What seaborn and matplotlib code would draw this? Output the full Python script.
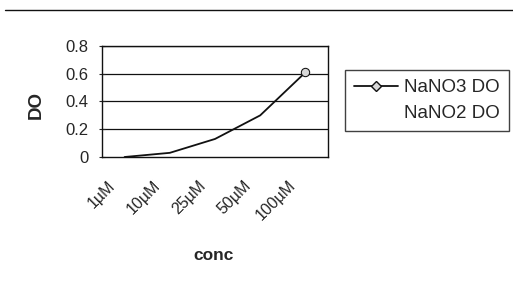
import matplotlib
matplotlib.use("Agg")
import matplotlib.pyplot as plt
from matplotlib.lines import Line2D
from matplotlib.transforms import ScaledTranslation
import seaborn as sns
import pandas as pd

# valeurs
conc = ["1µM", "10µM", "25µM", "50µM", "100µM"]
nano3_do = [0.0, 0.03, 0.13, 0.30, 0.61]
yticks = [0, 0.2, 0.4, 0.6, 0.8]
ytick_labels = ["0", "0.2", "0.4", "0.6", "0.8"]

sns.set_style("white")
plt.rcParams["font.family"] = ["Liberation Sans", "DejaVu Sans"]

df = pd.DataFrame({"conc": conc, "DO": nano3_do})

fig = plt.figure(figsize=(5.13, 2.83), dpi=100)
fig.patch.set_facecolor("white")
ax = fig.add_axes([102 / 513, 1 - 157 / 283, 226 / 513, 111 / 283])

sns.lineplot(data=df, x="conc", y="DO", sort=False, color="#111111", lw=1.3,
             marker="o", markersize=6, markerfacecolor="#d8d8d8",
             markeredgecolor="#111111", markevery=[4], ax=ax)

# grille horizontale
for v in yticks[1:]:
    ax.axhline(v, color="#111111", lw=0.9, zorder=0)

ax.set_xlim(-0.5, 4.5)
ax.set_ylim(0, 0.8)
ax.set_yticks(yticks)
ax.set_yticklabels(ytick_labels, fontsize=12)
ax.set_xticks(range(len(conc)))
ax.set_xticklabels(conc, fontsize=11.5, rotation=45, ha="right", va="top",
                   rotation_mode="anchor")
ax.tick_params(axis="x", length=0, pad=0)
ax.tick_params(axis="y", length=5, direction="inout", left=True, pad=7)

# décalage des étiquettes inclinées
offset = ScaledTranslation(-0.17, -0.21, fig.dpi_scale_trans)
for lab in ax.get_xticklabels():
    lab.set_transform(lab.get_transform() + offset)

for s in ax.spines.values():
    s.set_color("#111111")
    s.set_linewidth(1.0)

ax.set_xlabel("conc", fontsize=12.5, fontweight="bold")
ax.set_ylabel("DO", fontsize=13.5, fontweight="bold")
ax.xaxis.set_label_coords((214 - 102) / 226, -(256 - 157) / 111)
ax.xaxis.label.set_va("center")
ax.yaxis.set_label_coords((36 - 102) / 226, (157 - 105) / 111)
ax.yaxis.label.set_va("center")

# légende
handles = [
    Line2D([], [], color="#111111", lw=1.3, marker="D", markersize=5,
           markerfacecolor="#d8d8d8", markeredgecolor="#111111"),
    Line2D([], [], color="none"),
]
leg = fig.legend(handles, ["NaNO3 DO", "NaNO2 DO"], loc="upper left",
                 bbox_to_anchor=(345 / 513, 1 - 70 / 283), fontsize=13.5,
                 frameon=True, fancybox=False, handlelength=2.3,
                 borderpad=0.5, labelspacing=0.45, handletextpad=0.35,
                 borderaxespad=0)
leg.get_frame().set_edgecolor("#111111")
leg.get_frame().set_linewidth(1.0)

# trait en haut du document scanné
fig.add_artist(Line2D([0.01, 1.0], [1 - 10 / 283] * 2, color="#111111", lw=1.0))

fig.savefig("out.png", dpi=100)
